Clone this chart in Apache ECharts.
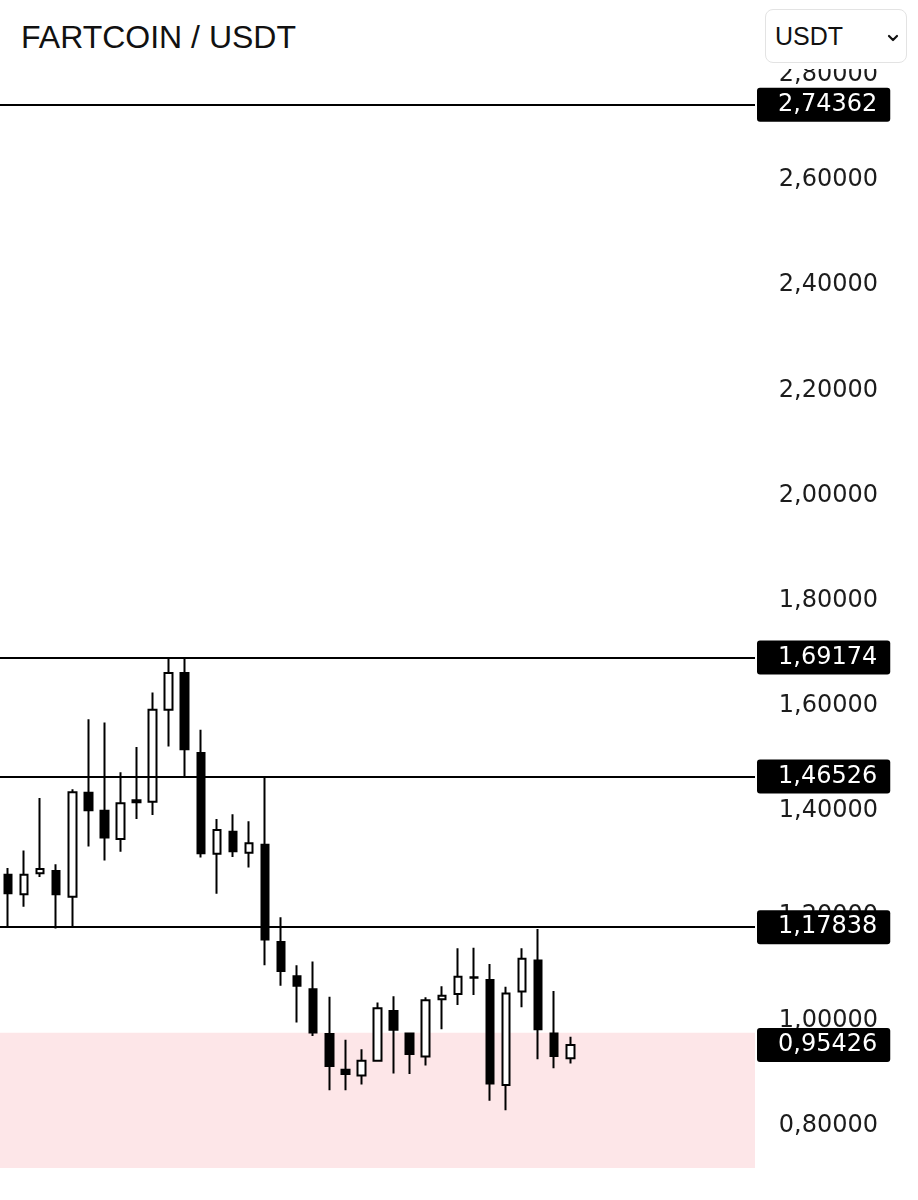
<!DOCTYPE html>
<html>
<head>
<meta charset="utf-8">
<script src="https://cdn.jsdelivr.net/npm/echarts@6/dist/echarts.min.js"></script>
<style>
  html, body { margin: 0; padding: 0; background: #fff; }
  #wrap { position: relative; width: 918px; height: 1200px; overflow: hidden; }
  #chart { position: absolute; left: 0; top: 0; width: 918px; height: 1200px; }
  #header { position: absolute; left: 0; top: 0; width: 918px; height: 69px; background: #fff; z-index: 2; }
  #title { position: absolute; left: 21px; top: 21px; font: 32px/32px "Liberation Sans", Arial, sans-serif; color: #111; }
  #select {
    position: absolute; left: 765px; top: 9px; width: 142px; height: 54px;
    border: 1.5px solid #e3e3e3; border-radius: 8px; box-sizing: border-box; background: #fff;
  }
  #select span { position: absolute; left: 9px; top: 14px; font: 25px/25px "Liberation Sans", Arial, sans-serif; color: #111; }
  #select svg { position: absolute; left: 121px; top: 23px; }
</style>
</head>
<body>
<div id="wrap">
  <div id="chart"></div>
  <div id="header">
    <div id="title">FARTCOIN / USDT</div>
    <div id="select">
      <span>USDT</span>
      <svg width="12" height="10" viewBox="0 0 12 10"><polyline points="2,3 6,7 10,3" fill="none" stroke="#111" stroke-width="2.2" stroke-linecap="round" stroke-linejoin="round"/></svg>
    </div>
  </div>
</div>
<script>
// candles (one per day)
const opens  = [1.278, 1.241, 1.281, 1.285, 1.236, 1.434, 1.400, 1.346, 1.416, 1.417, 1.592, 1.662,
                1.510, 1.318, 1.360, 1.320, 1.335, 1.150, 1.085, 1.060, 0.975, 0.907, 0.896, 0.924,
                1.019, 0.976, 0.932, 1.041, 1.051, 1.082, 1.078, 0.878, 1.056, 1.115, 0.976, 0.929]
const closes = [1.243, 1.278, 1.289, 1.241, 1.435, 1.401, 1.349, 1.414, 1.420, 1.592, 1.662, 1.517,
                1.319, 1.363, 1.323, 1.338, 1.155, 1.095, 1.067, 0.978, 0.914, 0.899, 0.924, 1.024,
                0.983, 0.937, 1.039, 1.048, 1.084, 1.083, 0.881, 1.052, 1.118, 0.984, 0.933, 0.954]
const lows   = [1.177, 1.217, 1.274, 1.176, 1.179, 1.332, 1.305, 1.322, 1.384, 1.392, 1.522, 1.462,
                1.311, 1.242, 1.312, 1.292, 1.106, 1.067, 0.997, 0.971, 0.868, 0.868, 0.879, 0.924,
                0.900, 0.899, 0.915, 0.984, 1.030, 1.049, 0.848, 0.830, 1.026, 0.927, 0.910, 0.919]
const highs  = [1.291, 1.324, 1.424, 1.298, 1.441, 1.574, 1.568, 1.473, 1.521, 1.625, 1.690, 1.690,
                1.554, 1.384, 1.393, 1.380, 1.464, 1.197, 1.106, 1.113, 1.046, 0.964, 0.946, 1.035,
                1.047, 0.977, 1.045, 1.066, 1.138, 1.139, 1.108, 1.065, 1.138, 1.175, 1.057, 0.970]

// 47 slots on the time axis, the last ones still empty
const categories = Array.from({ length: 47 }, (_, i) => 'D' + (i + 1))

const tickValues = [0.8, 1.0, 1.2, 1.4, 1.6, 1.8, 2.0, 2.2, 2.4, 2.6, 2.8]
const levels = [2.74362, 1.69174, 1.46526, 1.17838]
const lastPrice = 0.95426
const zoneTop = 0.9775
const axisMin = 0.72
const axisMax = 2.84

const fmt = v => Number(v).toFixed(5).replace('.', ',')

const candles = categories.map((c, i) =>
  i < opens.length ? [opens[i], closes[i], lows[i], highs[i]] : '-'
)

const boxLabel = {
  show: true,
  position: 'end',
  distance: 2,
  formatter: p => p.name,
  color: '#fff',
  backgroundColor: '#000',
  borderRadius: 3,
  padding: [4, 13, 4, 21],
  fontFamily: 'DejaVu Sans',
  fontSize: 24,
  lineHeight: 26,
}

const chart = echarts.init(document.getElementById('chart'))
chart.setOption({
  animation: false,
  grid: { left: 0, right: 163, top: 54, bottom: 32 },
  xAxis: {
    type: 'category',
    data: categories,
    show: false,
  },
  yAxis: {
    type: 'value',
    position: 'right',
    min: axisMin,
    max: axisMax,
    scale: true,
    splitLine: { show: false },
    axisLine: { show: false },
    axisTick: { show: false },
    axisLabel: {
      customValues: tickValues,
      formatter: v => fmt(v),
      align: 'right',
      margin: 123,
      color: '#1c1c1c',
      fontFamily: 'DejaVu Sans',
      fontSize: 24,
    },
  },
  series: [
    {
      type: 'candlestick',
      data: candles,
      barWidth: 8,
      itemStyle: {
        color: '#fff',
        color0: '#000',
        borderColor: '#000',
        borderColor0: '#000',
        borderWidth: 2,
      },
      markArea: {
        silent: true,
        itemStyle: { color: '#fde6e8' },
        data: [[{ yAxis: axisMin }, { yAxis: zoneTop }]],
      },
      markLine: {
        silent: true,
        symbol: ['none', 'none'],
        precision: 5,
        label: boxLabel,
        lineStyle: { color: '#000', width: 2, type: 'solid' },
        data: levels.map(v => ({ yAxis: v, name: fmt(v) })).concat([
          { yAxis: lastPrice, name: fmt(lastPrice), lineStyle: { color: 'rgba(0,0,0,0)', width: 1 } },
        ]),
      },
    },
  ],
})
</script>
</body>
</html>
